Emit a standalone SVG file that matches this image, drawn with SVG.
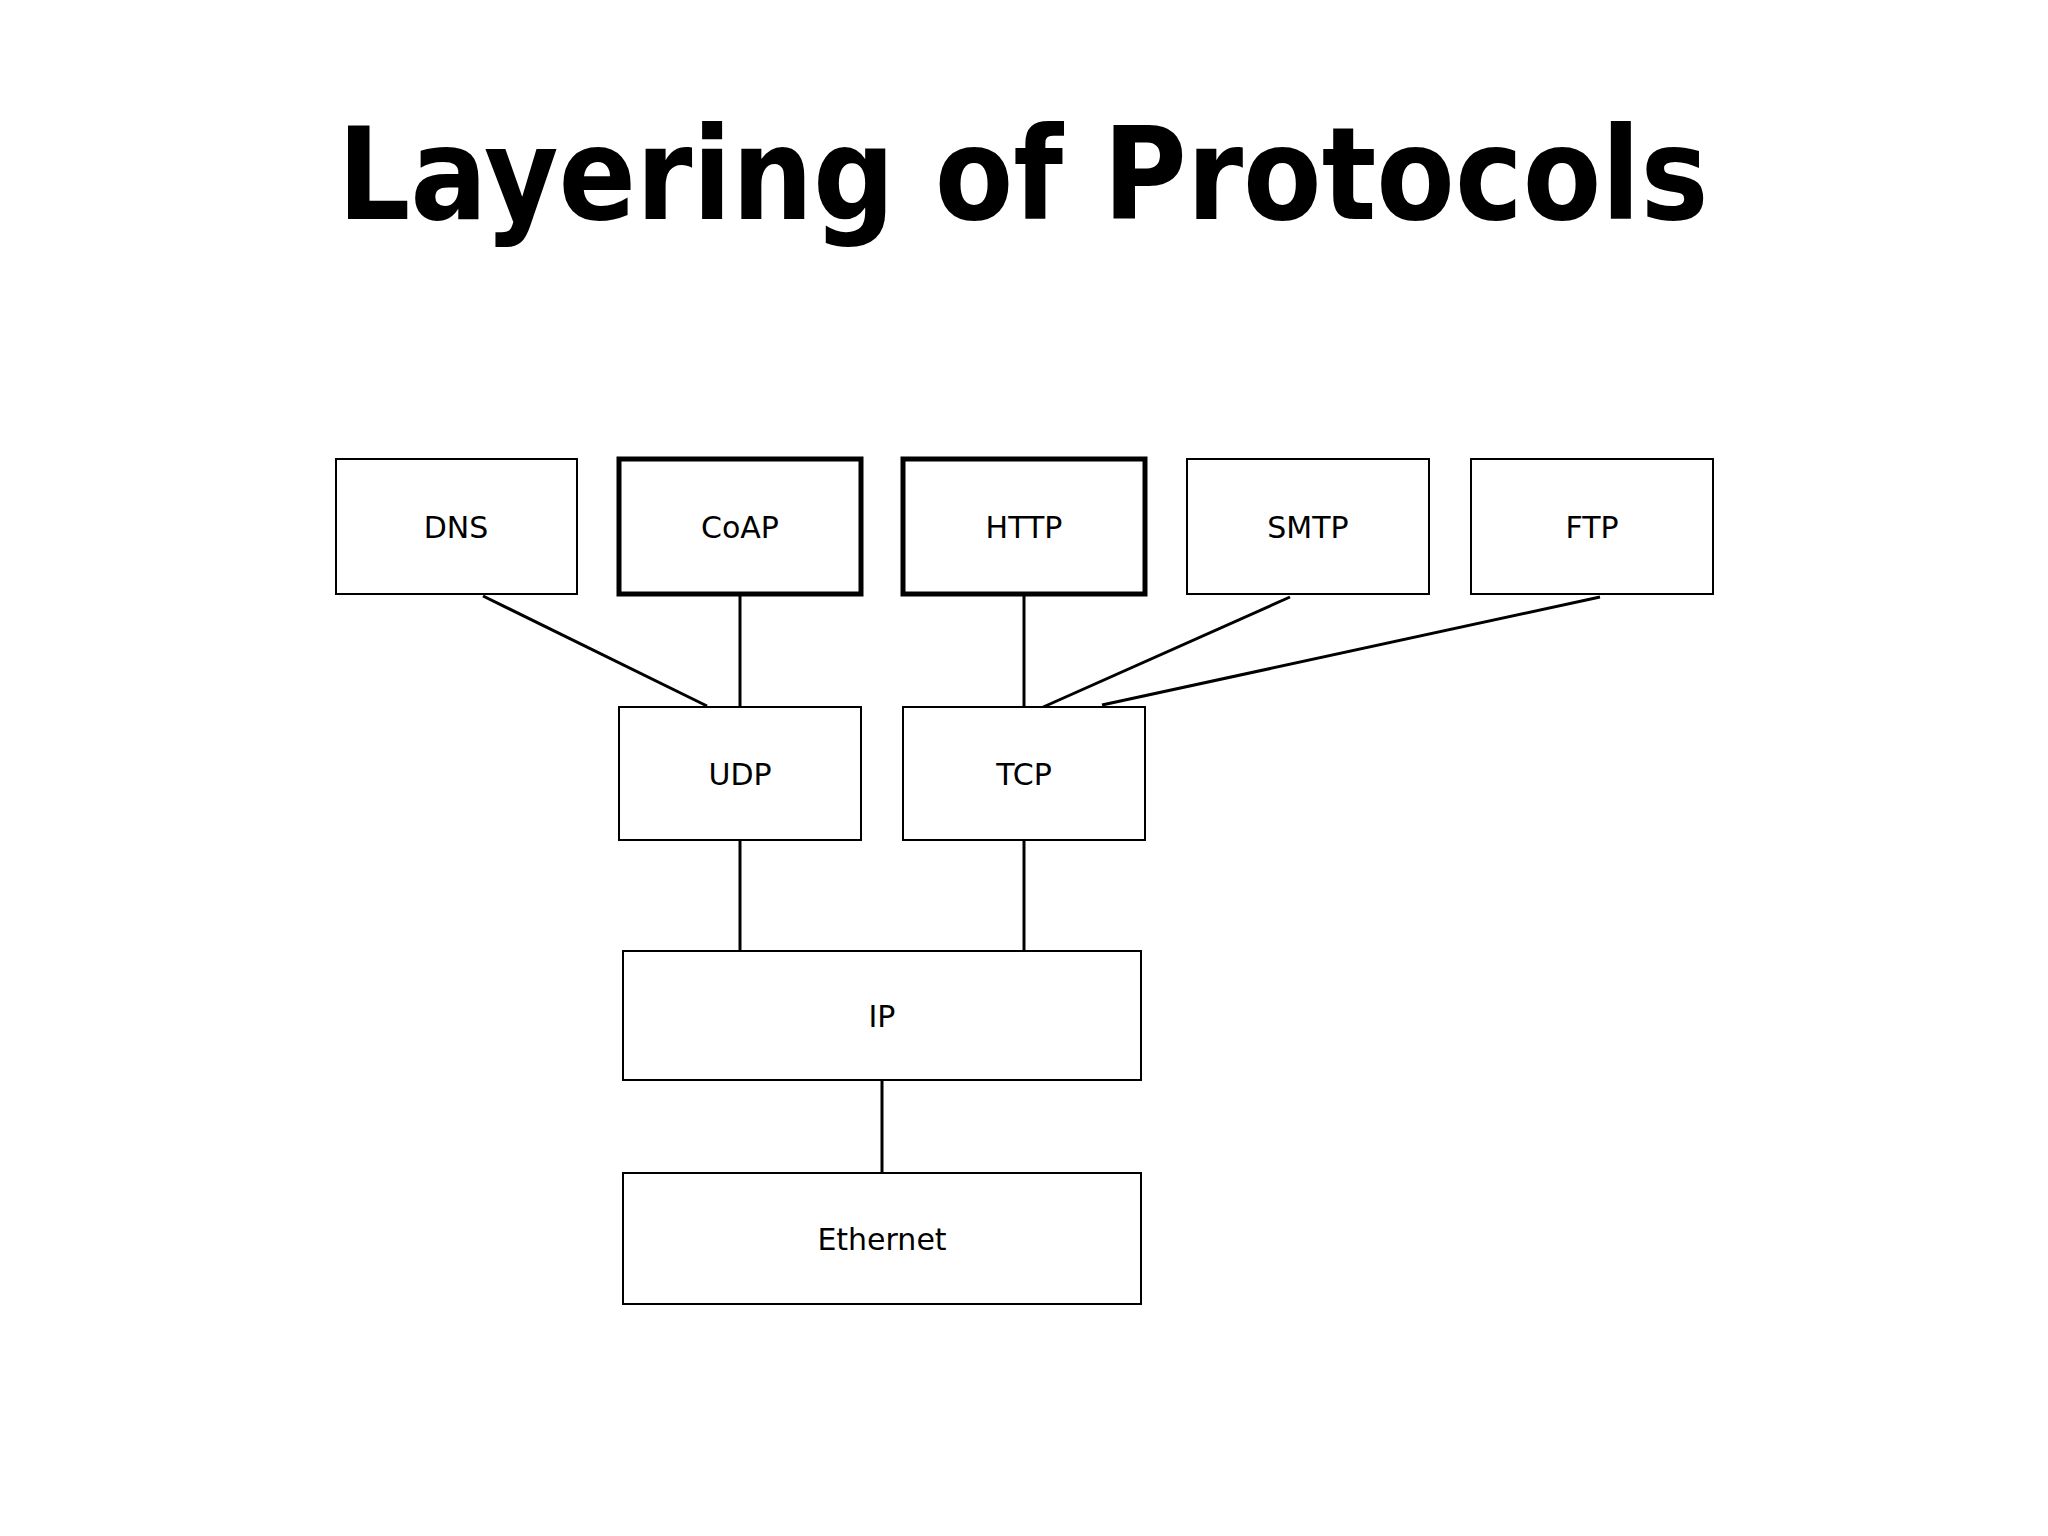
<svg xmlns="http://www.w3.org/2000/svg" width="2048" height="1536" viewBox="0 0 2048 1536">
<style>
.b{fill:#fff;stroke:#000;stroke-width:2}
.k{fill:#fff;stroke:#000;stroke-width:5}
.t{font-family:"DejaVu Sans",sans-serif;font-size:30px;text-anchor:middle;dominant-baseline:central;fill:#000}
.c line{stroke:#000;stroke-width:3}
</style>
<rect width="2048" height="1536" fill="#fff"/>
<text x="1023" y="219" font-family="DejaVu Sans,sans-serif" font-weight="bold" font-size="128" text-anchor="middle" textLength="1371" lengthAdjust="spacingAndGlyphs">Layering of Protocols</text>
<g class="c" id="connectors">
<line x1="483" y1="596" x2="707" y2="706"/>
<line x1="740" y1="596" x2="740" y2="709"/>
<line x1="1024" y1="596" x2="1024" y2="709"/>
<line x1="1290" y1="597" x2="1041" y2="708"/>
<line x1="1600" y1="597" x2="1102" y2="705"/>
<line x1="740" y1="840" x2="740" y2="951"/>
<line x1="1024" y1="840" x2="1024" y2="951"/>
<line x1="882" y1="1080" x2="882" y2="1173"/>
</g>
<g id="dns"><rect class="b" x="336" y="459" width="241" height="135"/><text class="t" x="456" y="527">DNS</text></g>
<g id="coap"><rect class="k" x="619" y="459" width="242" height="135"/><text class="t" x="740" y="527">CoAP</text></g>
<g id="http"><rect class="k" x="903" y="459" width="242" height="135"/><text class="t" x="1024" y="527">HTTP</text></g>
<g id="smtp"><rect class="b" x="1187" y="459" width="242" height="135"/><text class="t" x="1308" y="527">SMTP</text></g>
<g id="ftp"><rect class="b" x="1471" y="459" width="242" height="135"/><text class="t" x="1592" y="527">FTP</text></g>
<g id="udp"><rect class="b" x="619" y="707" width="242" height="133"/><text class="t" x="740" y="774">UDP</text></g>
<g id="tcp"><rect class="b" x="903" y="707" width="242" height="133"/><text class="t" x="1024" y="774">TCP</text></g>
<g id="ip"><rect class="b" x="623" y="951" width="518" height="129"/><text class="t" x="882" y="1016">IP</text></g>
<g id="ethernet"><rect class="b" x="623" y="1173" width="518" height="131"/><text class="t" x="882" y="1239">Ethernet</text></g>
</svg>
